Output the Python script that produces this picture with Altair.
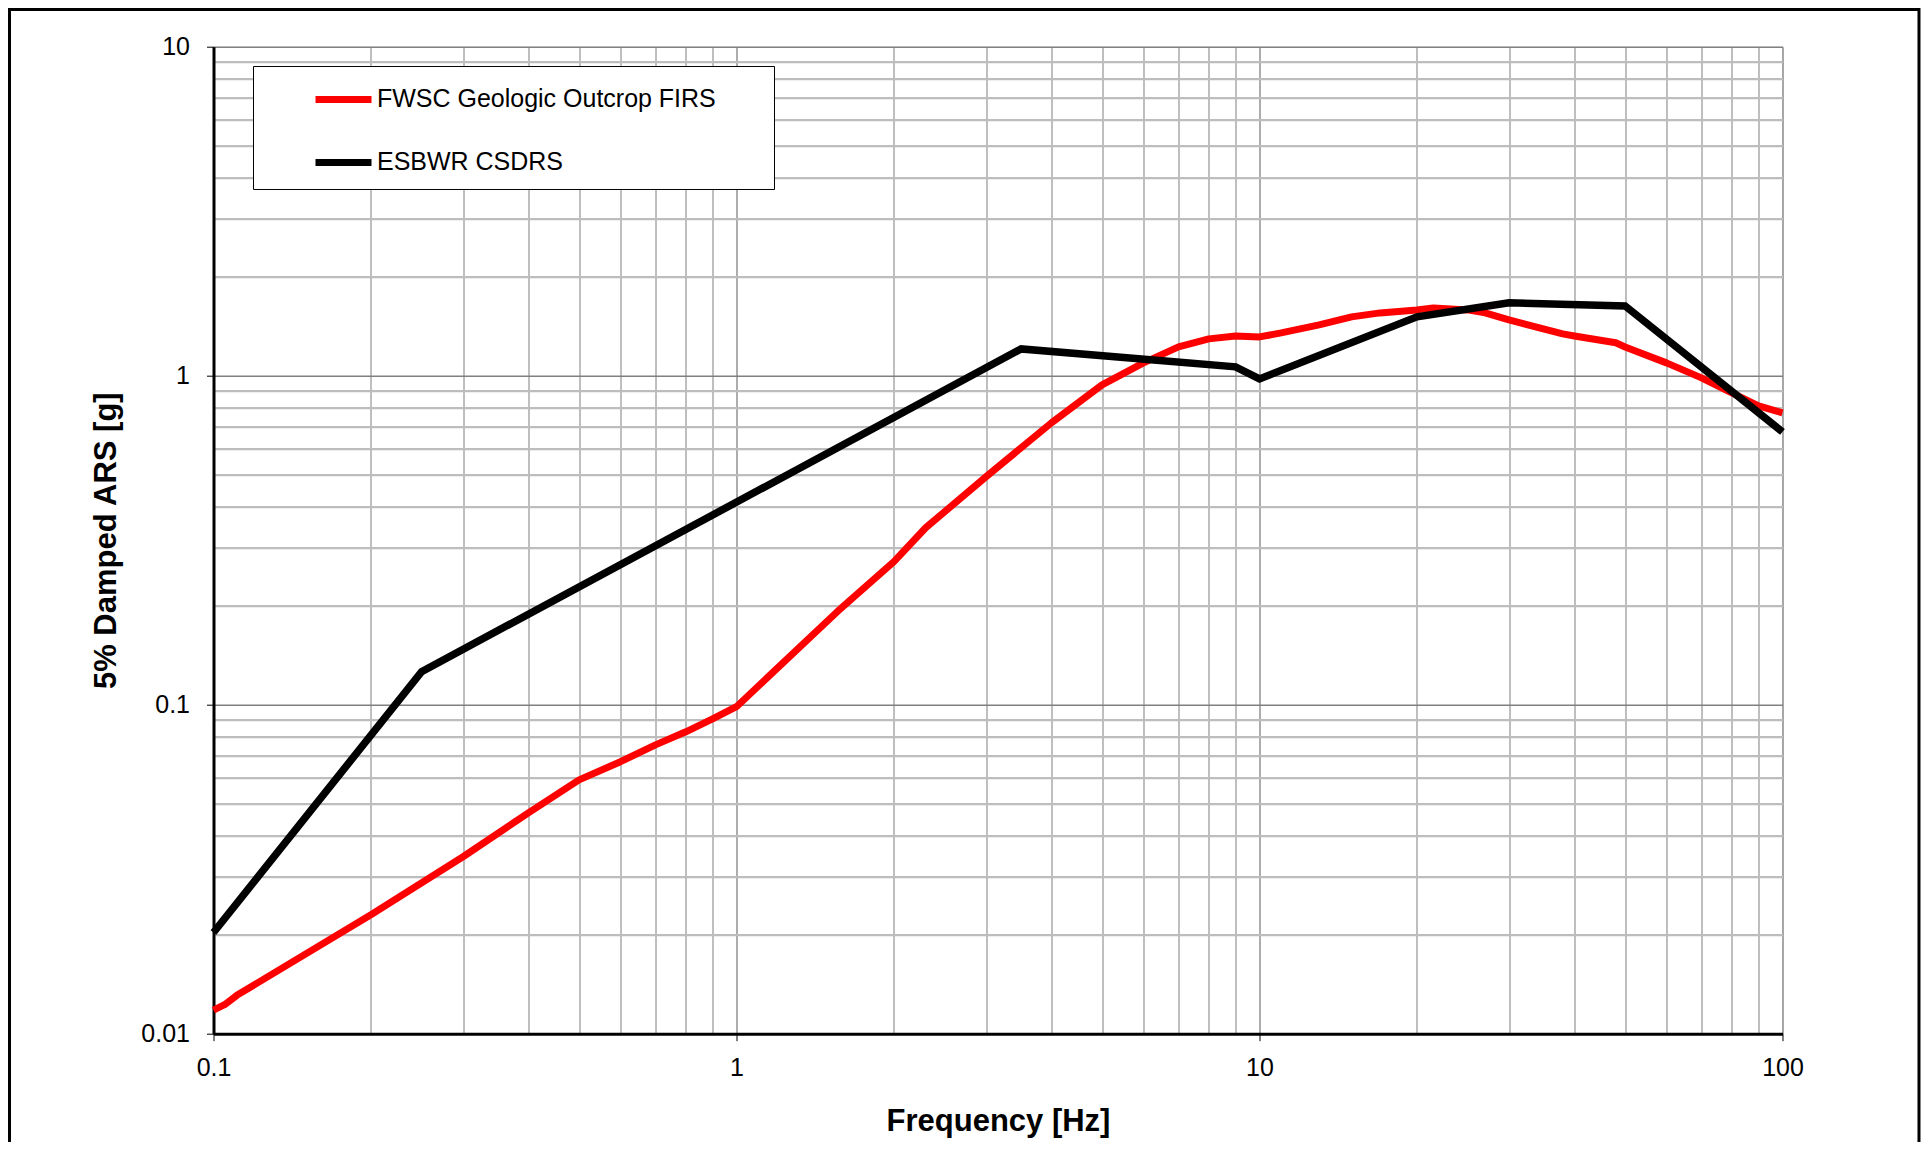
import altair as alt
import pandas as pd

series_names = ["FWSC Geologic Outcrop FIRS", "ESBWR CSDRS"]
series_colors = ["#ff0000", "#000000"]

firs_freq = [0.1, 0.105, 0.111, 0.2, 0.3, 0.4, 0.5, 0.6, 0.7, 0.8, 0.9, 1.0, 1.56,
             2.0, 2.3, 3.0, 4.0, 5.0, 6.0, 7.0, 8.0, 9.0, 10.0, 11.0, 13.0, 15.0,
             17.0, 20.0, 21.5, 25.0, 27.0, 30.0, 38.0, 40.0, 48.0, 50.0, 60.0,
             70.0, 80.0, 90.0, 100.0]
firs_sa = [0.0118, 0.01225, 0.0131, 0.0230, 0.0345, 0.0469, 0.0591, 0.0671, 0.0755,
           0.0827, 0.0905, 0.0986, 0.192, 0.272, 0.345, 0.493, 0.719, 0.938, 1.094,
           1.223, 1.294, 1.32, 1.312, 1.349, 1.427, 1.509, 1.552, 1.585, 1.607,
           1.585, 1.552, 1.477, 1.34, 1.32, 1.259, 1.223, 1.094, 0.985, 0.887,
           0.81, 0.771]

csdrs_freq = [0.1, 0.25, 3.5, 9.0, 10.0, 20.0, 30.0, 50.0, 100.0]
csdrs_sa = [0.0203, 0.126, 1.206, 1.064, 0.978, 1.51, 1.665, 1.63, 0.675]

x_grid_values = [0.1, 0.2, 0.3, 0.4, 0.5, 0.6, 0.7, 0.8, 0.9,
                 1, 2, 3, 4, 5, 6, 7, 8, 9,
                 10, 20, 30, 40, 50, 60, 70, 80, 90, 100]
y_grid_values = [0.01, 0.02, 0.03, 0.04, 0.05, 0.06, 0.07, 0.08, 0.09,
                 0.1, 0.2, 0.3, 0.4, 0.5, 0.6, 0.7, 0.8, 0.9,
                 1, 2, 3, 4, 5, 6, 7, 8, 9, 10]

df_firs = pd.DataFrame({"freq": firs_freq, "sa": firs_sa, "series": series_names[0]})
df_csdrs = pd.DataFrame({"freq": csdrs_freq, "sa": csdrs_sa, "series": series_names[1]})

FONT = "Liberation Sans"
MAJOR = "abs(log(datum.value)/LN10 - round(log(datum.value)/LN10)) < 0.000001"

xs = alt.Scale(type="log", domain=[0.1, 100], nice=False)
ys = alt.Scale(type="log", domain=[0.01, 10], nice=False)
color_scale = alt.Scale(domain=series_names, range=series_colors)

x_axis = alt.Axis(
    values=x_grid_values, format="~g",
    labelExpr=f"({MAJOR}) ? datum.label : ''",
    labelOverlap=False, labelFlush=False, labelBound=False,
    title="Frequency [Hz]", titleFontSize=31, titleFontWeight="bold",
    titleFont=FONT, titleBaseline="alphabetic", titleY=97,
    labelFont=FONT, labelFontSize=25, labelColor="#000000", labelPadding=15,
    tickSize=7, tickColor="#000000", tickWidth=1,
    tickOpacity={"condition": {"test": MAJOR, "value": 1}, "value": 0},
    grid=True, gridColor={"condition": {"test": MAJOR, "value": "#808080"}, "value": "#9c9c9c"},
    gridWidth=1.3,
    domainColor="#000000", domainWidth=3,
)

y_axis = alt.Axis(
    values=y_grid_values, format="~g",
    labelExpr=f"({MAJOR}) ? datum.label : ''",
    labelOverlap=False, labelFlush=False, labelBound=False,
    title="5% Damped ARS [g]", titleFontSize=31, titleFontWeight="bold",
    titleFont=FONT, titleBaseline="alphabetic", titleX=-98.5, titleAngle=270,
    labelFont=FONT, labelFontSize=25, labelColor="#000000", labelPadding=17,
    tickSize=7, tickColor="#000000", tickWidth=1,
    tickOpacity={"condition": {"test": MAJOR, "value": 1}, "value": 0},
    grid=True,
    gridColor={"condition": {"test": MAJOR, "value": "#808080"}, "value": "#bdbdbd"},
    gridWidth={"condition": {"test": MAJOR, "value": 1.5}, "value": 2.2},
    domainColor="#000000", domainWidth=3,
)

# invisible spacer title under the legend entries, to give the box its width and bottom margin
SPACER = "M" * 62
legend = alt.Legend(
    title=SPACER, titleOrient="bottom", titleAnchor="start", titleFontSize=10,
    titleFont=FONT, titleOpacity=0, titleLimit=2000, titlePadding=0,
    orient="none", legendX=39.5, legendY=19.3, direction="vertical",
    symbolType="stroke", symbolSize=3136, symbolStrokeWidth=7,
    labelFont=FONT, labelFontSize=25, labelColor="#000000", labelLimit=900,
    padding=2, rowPadding=17, symbolOffset=57, labelOffset=2,
    strokeColor="#000000", fillColor="#ffffff",
)

enc_x = alt.X("freq:Q", scale=xs, axis=x_axis)
enc_y = alt.Y("sa:Q", scale=ys, axis=y_axis)
enc_c = alt.Color("series:N", scale=color_scale, legend=legend)

red = alt.Chart(df_firs).mark_line(strokeWidth=7, strokeJoin="round").encode(
    x=enc_x, y=enc_y, color=enc_c)
black = alt.Chart(df_csdrs).mark_line(strokeWidth=7.5, strokeJoin="miter").encode(
    x=enc_x, y=enc_y, color=enc_c)

frame = alt.Chart(pd.DataFrame({"k": [0]})).mark_rect(
    fillOpacity=0, stroke="#000000", strokeWidth=3
).encode(
    x=alt.value(-204), x2=alt.value(1705.5), y=alt.value(-37.2), y2=alt.value(1300)
)

chart = alt.layer(red, black, frame).properties(
    width=1569, height=987,
    padding={"left": 205.5, "top": 38.7, "right": 138, "bottom": 108},
    autosize="none",
).configure_view(
    stroke="#000000", strokeWidth=3
).configure_legend(
    strokeWidth=1.2
).configure(
    background="#ffffff"
)

chart.save("out.html", embed_options={"renderer": "svg", "actions": False})
